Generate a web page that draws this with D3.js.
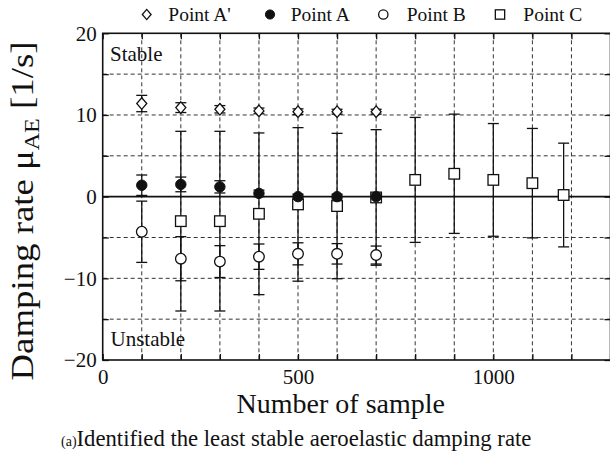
<!DOCTYPE html>
<html>
<head>
<meta charset="utf-8">
<script src="https://cdn.jsdelivr.net/npm/d3@7"></script>
<style>
  html, body { margin: 0; padding: 0; background: #fff; }
  svg { display: block; }
  text { font-family: "Liberation Serif", "Times New Roman", serif; fill: #111; }
</style>
</head>
<body>
<div id="chart"></div>
<script>

// ---- data ----
var samples = [100, 200, 300, 400, 500, 600, 700];

var aPrimeMean = [11.4, 10.9, 10.7, 10.5, 10.4, 10.4, 10.4];
var aPrimeErr  = [1.0, 0.6, 0.45, 0.35, 0.35, 0.3, 0.3];

var aMean = [1.4, 1.5, 1.2, 0.4, 0.0, 0.0, 0.0];
var aErr  = [1.25, 0.9, 0.75, 0.4, 0.3, 0.3, 0.3];

var bMean = [-4.3, -7.6, -7.95, -7.35, -7.0, -7.0, -7.15];
var bErr  = [3.75, 2.7, 1.95, 1.55, 1.35, 1.25, 1.1];

var cSamples = [200, 300, 400, 500, 600, 700, 800, 900, 1000, 1100, 1180];
var cMean = [-3.0, -3.0, -2.1, -0.95, -1.15, -0.1, 2.05, 2.8, 2.05, 1.65, 0.2];
var cErr  = [11.0, 11.0, 9.9, 9.4, 8.9, 8.3, 7.65, 7.3, 6.9, 6.7, 6.35];

var yLabelTicks = [-20, -10, 0, 10, 20];
var xLabelTicks = [0, 500, 1000];
var legendNames = ["Point A'", "Point A", "Point B", "Point C"];

// ---- layout ----
var width = 610, height = 452;
var plot = { left: 102.7, top: 33.3, right: 610.5, bottom: 360 };

var svg = d3.select("#chart").append("svg")
    .attr("width", width)
    .attr("height", height);

var x = d3.scaleLinear().domain([0, 1300]).range([plot.left, plot.right]);
var y = d3.scaleLinear().domain([-20, 20]).range([plot.bottom, plot.top]);

// zip helper
var toPoints = function(xs, means, errs) {
    return xs.map(function(d, i) { return { x: d, v: means[i], e: errs[i] }; });
};

var ptsAPrime = toPoints(samples, aPrimeMean, aPrimeErr);
var ptsA = toPoints(samples, aMean, aErr);
var ptsB = toPoints(samples, bMean, bErr);
var ptsC = toPoints(cSamples, cMean, cErr);

// ---- grid ----
var grid = svg.append("g").attr("class", "grid");

grid.selectAll("line.vg")
    .data(d3.range(100, 1300, 100))
    .enter().append("line")
    .attr("class", "vg")
    .attr("x1", function(d) { return x(d); })
    .attr("x2", function(d) { return x(d); })
    .attr("y1", plot.top)
    .attr("y2", plot.bottom)
    .attr("stroke", "#333")
    .attr("stroke-width", 1)
    .attr("stroke-dasharray", "4,3");

grid.selectAll("line.hg")
    .data([-15, -10, -5, 5, 10, 15])
    .enter().append("line")
    .attr("class", "hg")
    .attr("x1", plot.left)
    .attr("x2", plot.right)
    .attr("y1", function(d) { return y(d); })
    .attr("y2", function(d) { return y(d); })
    .attr("stroke", "#333")
    .attr("stroke-width", 1)
    .attr("stroke-dasharray", "4,3");

// zero line (solid)
svg.append("line")
    .attr("x1", plot.left).attr("x2", plot.right)
    .attr("y1", y(0)).attr("y2", y(0))
    .attr("stroke", "#111")
    .attr("stroke-width", 1.6);

// ---- axes: inward ticks on all four sides ----
var styleAxis = function(g) {
    g.select(".domain").remove();
    g.selectAll(".tick line").attr("stroke", "#111").attr("stroke-width", 1.3);
    g.selectAll(".tick text")
        .style("font-family", "'Liberation Serif', 'Times New Roman', serif")
        .style("font-size", "21px")
        .attr("fill", "#111");
};

svg.append("g")
    .attr("transform", "translate(" + plot.left + ",0)")
    .call(d3.axisLeft(y).tickValues(d3.range(-20, 21, 5)).tickSize(-6).tickFormat(""))
    .call(styleAxis);

svg.append("g")
    .attr("transform", "translate(" + plot.right + ",0)")
    .call(d3.axisRight(y).tickValues(d3.range(-20, 21, 5)).tickSize(-6).tickFormat(""))
    .call(styleAxis);

svg.append("g")
    .attr("transform", "translate(0," + plot.bottom + ")")
    .call(d3.axisBottom(x).tickValues(d3.range(0, 1301, 100)).tickSize(-6).tickFormat(""))
    .call(styleAxis);

svg.append("g")
    .attr("transform", "translate(0," + plot.top + ")")
    .call(d3.axisTop(x).tickValues(d3.range(0, 1301, 100)).tickSize(-6).tickFormat(""))
    .call(styleAxis);

// tick labels
svg.append("g")
    .attr("transform", "translate(" + plot.left + ",0)")
    .call(d3.axisLeft(y).tickValues(yLabelTicks).tickSize(0).tickPadding(6).tickFormat(d3.format("d")))
    .call(styleAxis);

svg.append("g")
    .attr("transform", "translate(0," + plot.bottom + ")")
    .call(d3.axisBottom(x).tickValues(xLabelTicks).tickSize(0).tickPadding(9).tickFormat(d3.format("d")))
    .call(styleAxis);

// frame
svg.append("rect")
    .attr("x", plot.left)
    .attr("y", plot.top)
    .attr("width", plot.right - plot.left)
    .attr("height", plot.bottom - plot.top)
    .attr("fill", "none")
    .attr("stroke", "#111")
    .attr("stroke-width", 1.6);

// ---- error bars ----
var capHalf = 5.5;

var drawErrorBars = function(pts, cls) {
    var g = svg.append("g").attr("class", cls);
    g.selectAll("line.bar").data(pts).enter().append("line")
        .attr("x1", function(d) { return x(d.x); })
        .attr("x2", function(d) { return x(d.x); })
        .attr("y1", function(d) { return y(d.v + d.e); })
        .attr("y2", function(d) { return y(d.v - d.e); })
        .attr("stroke", "#111").attr("stroke-width", 1.3);
    [1, -1].forEach(function(s) {
        g.selectAll("line.cap" + s).data(pts).enter().append("line")
            .attr("x1", function(d) { return x(d.x) - capHalf; })
            .attr("x2", function(d) { return x(d.x) + capHalf; })
            .attr("y1", function(d) { return y(d.v + s * d.e); })
            .attr("y2", function(d) { return y(d.v + s * d.e); })
            .attr("stroke", "#111").attr("stroke-width", 1.3);
    });
};

drawErrorBars(ptsAPrime, "err-aprime");
drawErrorBars(ptsC, "err-c");
drawErrorBars(ptsB, "err-b");
drawErrorBars(ptsA, "err-a");

// ---- markers ----
var diamondPath = function(cx, cy, hw, hh) {
    return "M" + cx + "," + (cy - hh) + "L" + (cx + hw) + "," + cy +
           "L" + cx + "," + (cy + hh) + "L" + (cx - hw) + "," + cy + "Z";
};

var drawMarker = function(g, kind, cx, cy, s) {
    if (kind === "diamond") {
        g.append("path").attr("d", diamondPath(cx, cy, 5 * s, 5.8 * s))
            .attr("fill", "#fff").attr("stroke", "#111").attr("stroke-width", 1.3);
    } else if (kind === "filled") {
        g.append("circle").attr("cx", cx).attr("cy", cy).attr("r", 5.2 * s)
            .attr("fill", "#111").attr("stroke", "#111").attr("stroke-width", 1);
    } else if (kind === "open") {
        g.append("circle").attr("cx", cx).attr("cy", cy).attr("r", 5.3 * s)
            .attr("fill", "#fff").attr("stroke", "#111").attr("stroke-width", 1.3);
    } else {
        g.append("rect").attr("x", cx - 5.3 * s).attr("y", cy - 5.3 * s)
            .attr("width", 10.6 * s).attr("height", 10.6 * s)
            .attr("fill", "#fff").attr("stroke", "#111").attr("stroke-width", 1.3);
    }
};

var drawSeries = function(pts, kind) {
    var g = svg.append("g").attr("class", "mk-" + kind);
    pts.forEach(function(d) { drawMarker(g, kind, x(d.x), y(d.v), 1); });
};

drawSeries(ptsAPrime, "diamond");
drawSeries(ptsC, "square");
drawSeries(ptsB, "open");
drawSeries(ptsA, "filled");

// ---- legend ----
var legendKinds = ["diamond", "filled", "open", "square"];
var legendMarkX = [146.7, 270, 383.3, 500];
var legendTextX = [168.3, 290.7, 406.7, 523.3];
var lg = svg.append("g").attr("class", "legend");
legendNames.forEach(function(name, i) {
    drawMarker(lg, legendKinds[i], legendMarkX[i], 14.5, 0.88);
    lg.append("text")
        .attr("x", legendTextX[i])
        .attr("y", 21)
        .style("font-size", "19.5px")
        .text(name);
});

// ---- labels ----
svg.append("text")
    .attr("x", 110).attr("y", 60.5)
    .style("font-size", "21px")
    .text("Stable");

svg.append("text")
    .attr("x", 110.5).attr("y", 346)
    .style("font-size", "21px")
    .text("Unstable");

svg.append("text")
    .attr("x", 340.8).attr("y", 413)
    .attr("text-anchor", "middle")
    .style("font-size", "28px")
    .text("Number of sample");

var yTitle = svg.append("text")
    .attr("transform", "translate(33,211) rotate(-90) scale(1.15,1)")
    .attr("text-anchor", "middle")
    .style("font-size", "32px");
yTitle.append("tspan").text("Damping rate \u03bc");
yTitle.append("tspan").attr("dy", 6).style("font-size", "21px").text("AE");
yTitle.append("tspan").attr("dy", -6).text(" [1/s]");

var caption = svg.append("text").attr("x", 61).attr("y", 446);
caption.append("tspan").style("font-size", "14px").text("(a)");
caption.append("tspan").style("font-size", "22.7px").text("Identified the least stable aeroelastic damping rate");

</script>
</body>
</html>
